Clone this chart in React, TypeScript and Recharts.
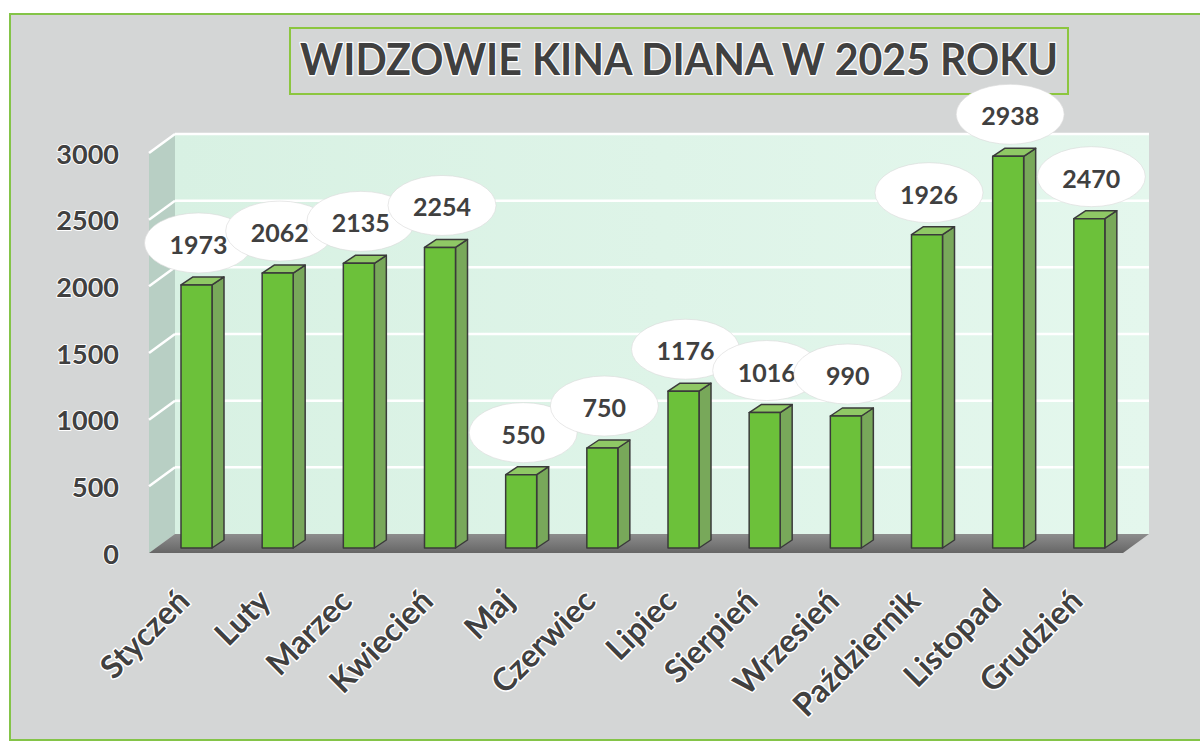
import React from 'react';
import { BarChart, Bar, XAxis, YAxis, CartesianGrid, LabelList } from 'recharts';

const months = ['Styczeń', 'Luty', 'Marzec', 'Kwiecień', 'Maj', 'Czerwiec', 'Lipiec', 'Sierpień', 'Wrzesień', 'Październik', 'Listopad', 'Grudzień'];
// numbers printed in the bubbles
const visitors = [1973, 2062, 2135, 2254, 550, 750, 1176, 1016, 990, 1926, 2938, 2470];
// bar heights as drawn in the picture (Październik is drawn taller than its label)
const barHeights = [1973, 2062, 2135, 2254, 550, 750, 1176, 1016, 990, 2350, 2938, 2470];
const yTicks = [0, 500, 1000, 1500, 2000, 2500, 3000];
const title = 'WIDZOWIE KINA DIANA W 2025 ROKU';

const rows = months.map((m, i) => ({ month: m, height: barHeights[i], printed: visitors[i] }));

const FONT = 'Lato, "Open Sans", sans-serif';
const INK = '#404040';

// 3D geometry of the plot box (page pixels)
const LEFT = 149, RIGHT = 1123, TOP = 153, BOTTOM = 553;
const DX = 26, DY = -19;      // wall depth
const BDX = 7, BDY = -5;      // bar offset inside depth
const SX = 12, SY = -8;       // bar depth

function Walls() {
  return (
    <svg width={1200} height={742} style={{ position: 'absolute', left: 0, top: 0 }}>
      <defs>
        <linearGradient id="wall" x1="0" y1="0" x2="1" y2="0">
          <stop offset="0" stopColor="#d8f1e3" />
          <stop offset="1" stopColor="#e4f7ed" />
        </linearGradient>
        <linearGradient id="floor" x1="0" y1="1" x2="0" y2="0">
          <stop offset="0" stopColor="#666" />
          <stop offset="1" stopColor="#8d8d8d" />
        </linearGradient>
      </defs>
      <rect x={LEFT + DX} y={TOP + DY} width={RIGHT - LEFT} height={BOTTOM - TOP} fill="url(#wall)" />
      <polygon points={`${LEFT},${TOP} ${LEFT + DX},${TOP + DY} ${LEFT + DX},${BOTTOM + DY} ${LEFT},${BOTTOM}`} fill="#b8cfc4" />
      <polygon points={`${LEFT},${BOTTOM} ${RIGHT},${BOTTOM} ${RIGHT + DX},${BOTTOM + DY} ${LEFT + DX},${BOTTOM + DY}`} fill="url(#floor)" />
      <rect x={290} y={28} width={778} height={66} fill="none" stroke="#8cc63f" strokeWidth={2} />
      <text x={300} y={75} textLength={758} lengthAdjust="spacingAndGlyphs" fontFamily={FONT} fontWeight={700} fontSize={44}
        fill={INK} stroke="#fff" strokeWidth={2.5} paintOrder="stroke" strokeLinejoin="round">
        {title}
      </text>
    </svg>
  );
}

function GridLine(props: any) {
  const { y1 } = props;
  if (Math.abs(y1 - BOTTOM) < 1) return <g />;
  return (
    <g>
      <line x1={LEFT} y1={y1} x2={LEFT + DX} y2={y1 + DY} stroke="#fff" strokeWidth={2.5} />
      <line x1={LEFT + DX} y1={y1 + DY} x2={RIGHT + DX} y2={y1 + DY} stroke="#fff" strokeWidth={2.5} />
    </g>
  );
}

function Bar3D(props: any) {
  const { x, y, width, height } = props;
  const fx = x + BDX, fy = y + BDY;
  const stroke = { stroke: '#3a3a3a', strokeWidth: 1.5, strokeLinejoin: 'round' as const };
  return (
    <g>
      <polygon points={`${fx + width},${fy} ${fx + width + SX},${fy + SY} ${fx + width + SX},${fy + height + SY} ${fx + width},${fy + height}`} fill="#78a85a" {...stroke} />
      <polygon points={`${fx},${fy} ${fx + SX},${fy + SY} ${fx + width + SX},${fy + SY} ${fx + width},${fy}`} fill="#8fc865" {...stroke} />
      <rect x={fx} y={fy} width={width} height={height} fill="#6cc13a" {...stroke} />
    </g>
  );
}

function Bubble(props: any) {
  const { x, y, width, value } = props;
  const cx = x + BDX + width / 2 + 2;
  const cy = y + BDY - 42;
  return (
    <g>
      <ellipse cx={cx} cy={cy} rx={54} ry={30} fill="#fff" stroke="#d8d8d8" strokeWidth={0.6} />
      <text x={cx} y={cy + 1} textAnchor="middle" dominantBaseline="central" fontFamily={FONT} fontWeight={700} fontSize={25} fill={INK}>
        {value}
      </text>
    </g>
  );
}

function MonthTick(props: any) {
  const { x, y, payload } = props;
  const tx = x + 2, ty = y + 42;
  return (
    <text x={tx} y={ty} transform={`rotate(-45 ${tx} ${ty})`} textAnchor="end" fontFamily={FONT} fontWeight={700} fontSize={32}
      fill={INK} stroke="#fff" strokeWidth={3} paintOrder="stroke" strokeLinejoin="round">
      {payload.value}
    </text>
  );
}

function ValueTick(props: any) {
  const { y, payload } = props;
  return (
    <text x={119} y={y} textAnchor="end" dominantBaseline="central" fontFamily={FONT} fontWeight={700} fontSize={27}
      fill={INK} stroke="#fff" strokeWidth={2} paintOrder="stroke" strokeLinejoin="round">
      {payload.value}
    </text>
  );
}

export default function App() {
  return (
    <div style={{ position: 'absolute', left: 0, top: 0, width: 1200, height: 742, background: '#fff', overflow: 'hidden' }}>
      <div style={{ position: 'absolute', left: 9, top: 13, width: 1200, height: 724, background: '#d4d6d6', borderLeft: '2.5px solid #84c448', borderTop: '2px solid #84c448', borderBottom: '2.5px solid #84c448' }} />
      <Walls />
      <div style={{ position: 'absolute', left: 0, top: 0 }}>
        <BarChart width={1200} height={742} data={rows} margin={{ top: TOP, right: 1200 - RIGHT, bottom: 742 - BOTTOM - 150, left: 0 }} barSize={31}>
          <CartesianGrid vertical={false} horizontal={GridLine} />
          <XAxis dataKey="month" height={150} axisLine={false} tickLine={false} interval={0} tick={MonthTick} />
          <YAxis width={LEFT} domain={[0, 3000]} ticks={yTicks} axisLine={false} tickLine={false} tick={ValueTick} />
          <Bar dataKey="height" shape={Bar3D} isAnimationActive={false}>
            <LabelList dataKey="printed" content={Bubble} />
          </Bar>
        </BarChart>
      </div>
    </div>
  );
}
